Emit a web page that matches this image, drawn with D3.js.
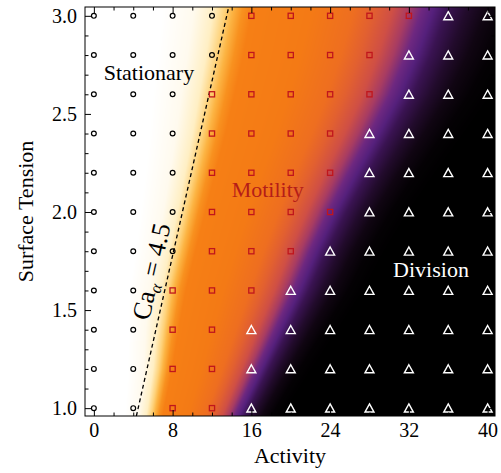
<!DOCTYPE html>
<html>
<head>
<meta charset="utf-8">
<script src="https://cdn.jsdelivr.net/npm/d3@7"></script>
<style>
  body { margin: 0; background: #fff; }
  svg text { font-family: "Liberation Serif", "Times New Roman", serif; }
</style>
</head>
<body>
<div id="vis"></div>
<script>
const WIDTH = 501;
const HEIGHT = 473;
const MARGIN = { top: 7, right: 6, bottom: 57, left: 85 };

// simulation grid
const activities = [0, 4, 8, 12, 16, 20, 24, 28, 32, 36, 40];
const tensions = [1.0, 1.2, 1.4, 1.6, 1.8, 2.0, 2.2, 2.4, 2.6, 2.8, 3.0];
// one string per tension row, one letter per activity: C stationary, S motility, T division
const phaseRows = [
  "CCSSTTTTTTT",
  "CCSSTTTTTTT",
  "CCSSTTTTTTT",
  "CCSSSTTTTTT",
  "CCCSSSTTTTT",
  "CCCSSSSTTTT",
  "CCCSSSSTTTT",
  "CCCSSSSTTTT",
  "CCCSSSSSTTT",
  "CCCCSSSSTTT",
  "CCCCSSSSSTT"
];

// background field: activity of the yellow (motility onset) and purple (division onset) bands per tension row
const motilityEdge = [6.3, 7.0, 7.5, 8.1, 9.0, 9.9, 10.8, 11.7, 12.5, 13.3, 14.0];
const divisionEdge = [14.9, 16.8, 18.7, 20.6, 22.3, 24.2, 26.3, 28.5, 30.6, 32.3, 33.7];

// Ca_alpha = 4.5 line (activity, tension)
const caLine = [[4.32, 0.96], [13.7, 3.045]];

const xTicks = [0, 8, 16, 24, 32, 40];
const xMinorTicks = [2, 4, 6, 10, 12, 14, 18, 20, 22, 26, 28, 30, 34, 36, 38];
const yTicks = [1.0, 1.5, 2.0, 2.5, 3.0];
const yMinorTicks = [1.1, 1.2, 1.3, 1.4, 1.6, 1.7, 1.8, 1.9, 2.1, 2.2, 2.3, 2.4, 2.6, 2.7, 2.8, 2.9];

const svg = d3.select("#vis").append("svg")
  .attr("width", WIDTH).attr("height", HEIGHT);

const x = d3.scaleLinear().domain([-0.9, 40.75]).range([MARGIN.left, WIDTH - MARGIN.right]);
const y = d3.scaleLinear().domain([0.96, 3.045]).range([HEIGHT - MARGIN.bottom, MARGIN.top]);

const plotW = WIDTH - MARGIN.right - MARGIN.left;
const plotH = HEIGHT - MARGIN.bottom - MARGIN.top;

// colour along the normalised coordinate s (0 = yellow band, 1 = purple band)
const colour = d3.scaleLinear()
  .domain([-0.36, -0.2, -0.1, -0.04, 0.0, 0.05, 0.1, 0.4, 0.62, 0.72, 0.82, 0.9, 0.97, 1.03, 1.1, 1.2, 1.3, 1.42, 1.55])
  .range(["#ffffff", "#fffaee", "#ffefc4", "#fed27a", "#fcb443", "#f8911f", "#f67f15", "#f47a15",
          "#ee6e20", "#e26030", "#cf4f45", "#a83c62", "#6e2880", "#55207c", "#3a1352", "#220b2c",
          "#100512", "#040104", "#000000"])
  .interpolate(d3.interpolateRgb)
  .clamp(true);

const edge1 = d3.scaleLinear().domain(tensions).range(motilityEdge);
const edge2 = d3.scaleLinear().domain(tensions).range(divisionEdge);

// heat field drawn on a canvas, then placed in the svg
const canvas = document.createElement("canvas");
canvas.width = plotW;
canvas.height = plotH;
const ctx = canvas.getContext("2d");
const img = ctx.createImageData(plotW, plotH);
for (let j = 0; j < plotH; j++) {
  const t = y.invert(MARGIN.top + j + 0.5);
  const e1 = edge1(t), e2 = edge2(t);
  for (let i = 0; i < plotW; i++) {
    const a = x.invert(MARGIN.left + i + 0.5);
    const c = d3.rgb(colour((a - e1) / (e2 - e1)));
    const k = (j * plotW + i) * 4;
    img.data[k] = c.r; img.data[k + 1] = c.g; img.data[k + 2] = c.b; img.data[k + 3] = 255;
  }
}
ctx.putImageData(img, 0, 0);

svg.append("image")
  .attr("x", MARGIN.left).attr("y", MARGIN.top)
  .attr("width", plotW).attr("height", plotH)
  .attr("preserveAspectRatio", "none")
  .attr("href", canvas.toDataURL());

// dashed Ca line
svg.append("path")
  .attr("d", d3.line().x(d => x(d[0])).y(d => y(d[1]))(caLine))
  .attr("fill", "none")
  .attr("stroke", "#000")
  .attr("stroke-width", 1.3)
  .attr("stroke-dasharray", "4,3");

// markers
const points = [];
tensions.forEach((t, r) => {
  activities.forEach((a, c) => points.push({ a, t, phase: phaseRows[r][c] }));
});

const g = svg.append("g");
g.selectAll("circle.stat")
  .data(points.filter(d => d.phase === "C"))
  .enter().append("circle")
  .attr("class", "stat")
  .attr("cx", d => x(d.a)).attr("cy", d => y(d.t))
  .attr("r", 2.4)
  .attr("fill", "none").attr("stroke", "#000").attr("stroke-width", 1.2);

g.selectAll("rect.mot")
  .data(points.filter(d => d.phase === "S"))
  .enter().append("rect")
  .attr("class", "mot")
  .attr("x", d => x(d.a) - 2.6).attr("y", d => y(d.t) - 2.6)
  .attr("width", 5.2).attr("height", 5.2)
  .attr("fill", "none").attr("stroke", "#c0161c").attr("stroke-width", 1.3);

g.selectAll("path.div")
  .data(points.filter(d => d.phase === "T"))
  .enter().append("path")
  .attr("class", "div")
  .attr("d", d => {
    const cx = x(d.a), cy = y(d.t);
    return `M${cx},${cy - 4.2}L${cx + 4.5},${cy + 3.9}L${cx - 4.5},${cy + 3.9}Z`;
  })
  .attr("fill", "none").attr("stroke", "#fff").attr("stroke-width", 1.4)
  .attr("stroke-linejoin", "miter");

// axes with inward ticks
const bottom = HEIGHT - MARGIN.bottom;
const right = WIDTH - MARGIN.right;

function styleAxis(sel) {
  sel.select(".domain").remove();
  sel.selectAll("line").attr("stroke", "#000").attr("stroke-width", 1);
  sel.selectAll("text").attr("fill", "#000").style("font-size", "20px")
    .style("font-family", "'Liberation Serif', 'Times New Roman', serif");
}

svg.append("g").attr("transform", `translate(0,${bottom})`)
  .call(d3.axisBottom(x).tickValues(xTicks).tickSize(-6).tickPadding(7).tickFormat(d3.format("d")))
  .call(styleAxis);
svg.append("g").attr("transform", `translate(0,${bottom})`)
  .call(d3.axisBottom(x).tickValues(xMinorTicks).tickSize(-3.5).tickFormat(""))
  .call(styleAxis);
svg.append("g").attr("transform", `translate(0,${MARGIN.top})`)
  .call(d3.axisTop(x).tickValues(xTicks).tickSize(-6).tickFormat(""))
  .call(styleAxis);
svg.append("g").attr("transform", `translate(0,${MARGIN.top})`)
  .call(d3.axisTop(x).tickValues(xMinorTicks).tickSize(-3.5).tickFormat(""))
  .call(styleAxis);

svg.append("g").attr("transform", `translate(${MARGIN.left},0)`)
  .call(d3.axisLeft(y).tickValues(yTicks).tickSize(-6).tickPadding(8).tickFormat(d3.format(".1f")))
  .call(styleAxis);
svg.append("g").attr("transform", `translate(${MARGIN.left},0)`)
  .call(d3.axisLeft(y).tickValues(yMinorTicks).tickSize(-3.5).tickFormat(""))
  .call(styleAxis);
svg.append("g").attr("transform", `translate(${right},0)`)
  .call(d3.axisRight(y).tickValues(yTicks).tickSize(-6).tickFormat(""))
  .call(styleAxis);
svg.append("g").attr("transform", `translate(${right},0)`)
  .call(d3.axisRight(y).tickValues(yMinorTicks).tickSize(-3.5).tickFormat(""))
  .call(styleAxis);

// frame
svg.append("rect")
  .attr("x", MARGIN.left).attr("y", MARGIN.top)
  .attr("width", plotW).attr("height", plotH)
  .attr("fill", "none").attr("stroke", "#000").attr("stroke-width", 1);

// axis titles
svg.append("text")
  .attr("x", (MARGIN.left + right) / 2).attr("y", 463)
  .attr("text-anchor", "middle")
  .style("font-size", "22px")
  .text("Activity");

svg.append("text")
  .attr("transform", `translate(33,${(MARGIN.top + bottom) / 2}) rotate(-90)`)
  .attr("text-anchor", "middle")
  .style("font-size", "22px")
  .text("Surface Tension");

// region labels
const labels = [
  { text: "Stationary", a: 1.0, t: 2.672, fill: "#000" },
  { text: "Motility", a: 14.0, t: 2.076, fill: "#b51d18" },
  { text: "Division", a: 30.4, t: 1.669, fill: "#fff" }
];
svg.selectAll("text.region")
  .data(labels)
  .enter().append("text")
  .attr("class", "region")
  .attr("x", d => x(d.a)).attr("y", d => y(d.t))
  .attr("fill", d => d.fill)
  .style("font-size", "22px")
  .text(d => d.text);

// Ca label along the dashed line
const p0 = [x(caLine[0][0]), y(caLine[0][1])];
const p1 = [x(caLine[1][0]), y(caLine[1][1])];
const angle = Math.atan2(p1[1] - p0[1], p1[0] - p0[0]) * 180 / Math.PI;
const caText = svg.append("text")
  .attr("transform", `translate(${x(6.7)},${y(1.687)}) rotate(${angle})`)
  .attr("text-anchor", "middle")
  .style("font-size", "26px");
caText.append("tspan").text("Ca");
caText.append("tspan").attr("dy", 5).style("font-size", "17px").style("font-style", "italic").text("α");
caText.append("tspan").attr("dy", -5).text(" = 4.5");
</script>
</body>
</html>
